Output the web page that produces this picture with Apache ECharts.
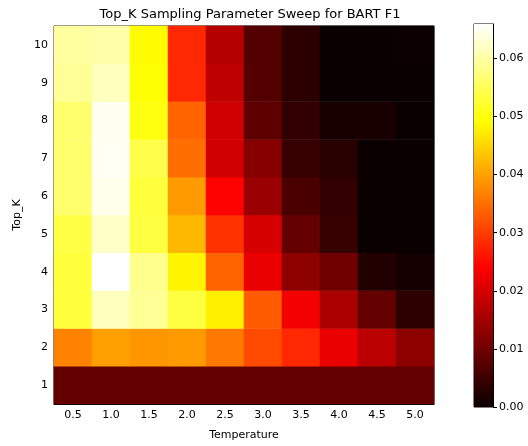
<!DOCTYPE html>
<html lang="en">
<head>
    <meta charset="UTF-8">
    <title>Top_K sweep heatmap</title>
    <script src="https://cdn.jsdelivr.net/npm/echarts@6/dist/echarts.min.js"></script>
</head>
<body style="margin:0">
<div id="my" style="width:528px;height:446px"></div>
<script>
    // data
    var temperatures = ['0.5', '1.0', '1.5', '2.0', '2.5', '3.0', '3.5', '4.0', '4.5', '5.0']
    var topKs = ['1', '2', '3', '4', '5', '6', '7', '8', '9', '10']
    // one row per Top_K, from 1 up to 10
    var f1Rows = [
        [0.0088, 0.0088, 0.0088, 0.0088, 0.0088, 0.0088, 0.0088, 0.0088, 0.0088, 0.0088],
        [0.0369, 0.0398, 0.0388, 0.0393, 0.0359, 0.0314, 0.0280, 0.0220, 0.0172, 0.0127],
        [0.0531, 0.0616, 0.0590, 0.0535, 0.0477, 0.0330, 0.0230, 0.0157, 0.0088, 0.0034],
        [0.0531, 0.0659, 0.0584, 0.0482, 0.0339, 0.0220, 0.0127, 0.0098, 0.0024, 0.0009],
        [0.0538, 0.0623, 0.0535, 0.0422, 0.0290, 0.0201, 0.0088, 0.0044, 0.0000, 0.0000],
        [0.0564, 0.0646, 0.0531, 0.0393, 0.0241, 0.0142, 0.0063, 0.0039, 0.0000, 0.0000],
        [0.0564, 0.0652, 0.0541, 0.0349, 0.0196, 0.0122, 0.0044, 0.0029, 0.0000, 0.0000],
        [0.0564, 0.0649, 0.0502, 0.0339, 0.0196, 0.0083, 0.0039, 0.0014, 0.0014, 0.0000],
        [0.0590, 0.0616, 0.0494, 0.0280, 0.0177, 0.0073, 0.0034, 0.0000, 0.0000, 0.0000],
        [0.0596, 0.0601, 0.0490, 0.0280, 0.0167, 0.0073, 0.0034, 0.0000, 0.0000, 0.0002]
    ]
    var vMin = 0
    var vMax = 0.0659
    var cbTicks = [0, 0.01, 0.02, 0.03, 0.04, 0.05, 0.06]

    // matplotlib 'hot' colormap
    function hot(t) {
        var r = Math.min(1, 0.0416 + (1 - 0.0416) * t / 0.365)
        var g = Math.max(0, Math.min(1, (t - 0.365) / (0.746 - 0.365)))
        var b = Math.max(0, Math.min(1, (t - 0.746) / (1 - 0.746)))
        return 'rgb(' + Math.round(r * 255) + ',' + Math.round(g * 255) + ',' + Math.round(b * 255) + ')'
    }
    var hotColors = []
    var gradStops = []
    for (var i = 0; i <= 100; i++) {
        hotColors.push(hot(i / 100))
        gradStops.push({offset: 1 - i / 100, color: hot(i / 100)})
    }

    var cells = []
    for (var y = 0; y < topKs.length; y++) {
        for (var x = 0; x < temperatures.length; x++) {
            cells.push([x, y, f1Rows[y][x]])
        }
    }

    var font = 'DejaVu Sans'
    var mCharts = echarts.init(document.getElementById('my'))
    var option = {
        animation: false,
        textStyle: {fontFamily: font},
        title: {
            text: 'Top_K Sampling Parameter Sweep for BART F1',
            left: 245, top: 3, textAlign: 'center',
            textStyle: {fontSize: 13, fontWeight: 'normal', color: '#000', fontFamily: font}
        },
        grid: [
            {left: 54, top: 26, width: 380, height: 380, show: true, borderColor: '#000', borderWidth: 1, backgroundColor: 'transparent'},
            {left: 474, top: 24, width: 19, height: 383, show: true, borderColor: '#000', borderWidth: 1}
        ],
        visualMap: {
            show: false, min: vMin, max: vMax, seriesIndex: 0, dimension: 2,
            inRange: {color: hotColors}
        },
        xAxis: [
            {
                type: 'category', data: temperatures, gridIndex: 0,
                name: 'Temperature', nameLocation: 'middle', nameGap: 26,
                nameTextStyle: {fontSize: 11, color: '#000'},
                axisLine: {lineStyle: {color: '#000'}},
                axisTick: {alignWithLabel: true, length: 4, lineStyle: {color: '#000'}},
                axisLabel: {fontSize: 11, color: '#000', margin: 6},
                splitLine: {show: false}
            },
            {
                type: 'category', data: ['cb'], gridIndex: 1,
                show: false
            }
        ],
        yAxis: [
            {
                type: 'category', data: topKs, gridIndex: 0,
                name: 'Top_K', nameLocation: 'middle', nameGap: 28, nameRotate: 90,
                nameTextStyle: {fontSize: 11, color: '#000'},
                axisLine: {lineStyle: {color: '#000'}},
                axisTick: {alignWithLabel: true, length: 4, lineStyle: {color: '#000'}},
                axisLabel: {fontSize: 11, color: '#000', margin: 6},
                splitLine: {show: false}
            },
            {
                type: 'value', gridIndex: 1, position: 'right',
                min: vMin, max: vMax,
                axisLine: {show: true, lineStyle: {color: '#000'}},
                axisTick: {show: true, length: 4, customValues: cbTicks, lineStyle: {color: '#000'}},
                axisLabel: {
                    fontSize: 11, color: '#000', margin: 6, customValues: cbTicks,
                    formatter: function (v) { return v.toFixed(2) }
                },
                splitLine: {show: false}
            }
        ],
        series: [
            {
                type: 'heatmap', xAxisIndex: 0, yAxisIndex: 0,
                data: cells
            },
            {
                type: 'bar', xAxisIndex: 1, yAxisIndex: 1,
                barWidth: '100%', silent: true,
                data: [vMax],
                itemStyle: {
                    color: new echarts.graphic.LinearGradient(0, 0, 0, 1, gradStops)
                }
            }
        ]
    }
    mCharts.setOption(option)
    window.onresize = mCharts.resize
</script>
</body>
</html>
